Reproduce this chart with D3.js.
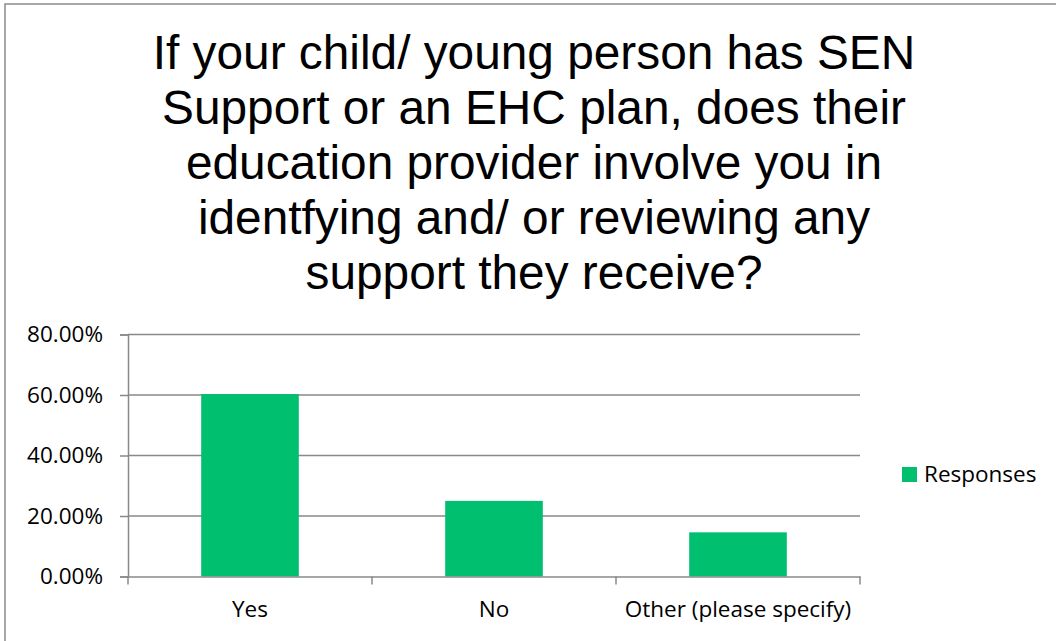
<!DOCTYPE html>
<html>
<head>
<meta charset="utf-8">
<script src="https://cdn.jsdelivr.net/npm/d3@7"></script>
<style>
  html, body { margin: 0; padding: 0; background: #fff; }
  svg { display: block; }
</style>
</head>
<body>
<svg id="chart" width="1056" height="641"></svg>
<script>
// Survey responses
const categories = ["Yes", "No", "Other (please specify)"];
const responses = [0.603, 0.250, 0.146];
const yTicks = [0, 0.2, 0.4, 0.6, 0.8];
const seriesName = "Responses";
const titleLines = [
  "If your child/ young person has SEN",
  "Support or an EHC plan, does their",
  "education provider involve you in",
  "identfying and/ or reviewing any",
  "support they receive?"
];

const svg = d3.select("#chart");
const W = 1056, H = 641;
const barColor = "#00bf6f";
const gridColor = "#898989";
const labelFont = "'Open Sans', sans-serif";
const labelSize = 22.5;

// chart frame
svg.append("rect")
  .attr("x", 5).attr("y", 4)
  .attr("width", W + 10).attr("height", H + 10)
  .attr("fill", "#fff")
  .attr("stroke", "#8a8a8a").attr("stroke-width", 1.5);

// title
svg.append("g")
  .selectAll("text")
  .data(titleLines)
  .join("text")
  .attr("x", 534)
  .attr("y", (d, i) => 69 + i * 55)
  .attr("text-anchor", "middle")
  .attr("font-family", "'Liberation Sans', Arial, sans-serif")
  .attr("font-size", 47.8)
  .attr("fill", "#000")
  .text(d => d);

const plot = { left: 128, right: 860, top: 334.5, bottom: 576.5 };

const x = d3.scaleBand()
  .domain(categories)
  .range([plot.left, plot.right])
  .paddingInner(0.6)
  .paddingOuter(0.3);

const xOuter = d3.scaleBand()
  .domain(categories)
  .range([plot.left, plot.right]);

const y = d3.scaleLinear()
  .domain([0, 0.8])
  .range([plot.bottom, plot.top]);

// horizontal gridlines
svg.append("g")
  .selectAll("line")
  .data(yTicks.filter(d => d > 0))
  .join("line")
  .attr("x1", plot.left).attr("x2", plot.right)
  .attr("y1", d => y(d)).attr("y2", d => y(d))
  .attr("stroke", gridColor).attr("stroke-width", 1.5);

// bars
svg.append("g")
  .selectAll("rect")
  .data(categories)
  .join("rect")
  .attr("x", d => x(d))
  .attr("width", x.bandwidth())
  .attr("y", (d, i) => y(responses[i]))
  .attr("height", (d, i) => y(0) - y(responses[i]))
  .attr("fill", barColor);

// y axis
const yAxis = svg.append("g")
  .attr("transform", `translate(${plot.left},0)`)
  .call(d3.axisLeft(y).tickValues(yTicks).tickFormat(d3.format(".2%")).tickSize(8).tickPadding(17));
yAxis.select(".domain").attr("stroke", gridColor).attr("stroke-width", 1.5);
yAxis.selectAll(".tick line").attr("stroke", gridColor).attr("stroke-width", 1.5);
yAxis.selectAll(".tick text")
  .attr("font-family", labelFont).attr("font-size", labelSize).attr("fill", "#000");

// x axis
const xAxis = svg.append("g")
  .attr("transform", `translate(0,${plot.bottom})`)
  .call(d3.axisBottom(xOuter).tickSize(0).tickPadding(25));
xAxis.select(".domain").attr("stroke", gridColor).attr("stroke-width", 1.5);
xAxis.selectAll(".tick text")
  .attr("font-family", labelFont).attr("font-size", labelSize).attr("fill", "#000");

// category separator ticks
const bounds = categories.map(c => xOuter(c)).concat([plot.right]);
svg.append("g")
  .selectAll("line")
  .data(bounds)
  .join("line")
  .attr("x1", d => d).attr("x2", d => d)
  .attr("y1", plot.bottom).attr("y2", plot.bottom + 8)
  .attr("stroke", gridColor).attr("stroke-width", 1.5);

// legend
const legend = svg.append("g").attr("transform", "translate(902,467)");
legend.append("rect")
  .attr("width", 15).attr("height", 15)
  .attr("fill", barColor);
legend.append("text")
  .attr("x", 22).attr("y", 15)
  .attr("font-family", labelFont).attr("font-size", labelSize).attr("fill", "#000")
  .text(seriesName);
</script>
</body>
</html>
